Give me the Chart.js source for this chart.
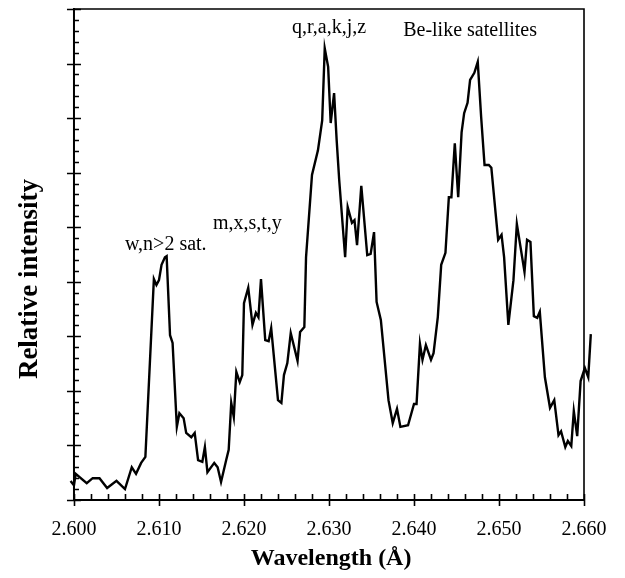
<!DOCTYPE html>
<html>
<head>
<meta charset="utf-8">
<title>Relative intensity vs wavelength</title>
<script src="https://cdn.jsdelivr.net/npm/chart.js@4.4.1/dist/chart.umd.min.js"></script>
<style>
    html, body { margin: 0; padding: 0; background: #fff; }
    canvas { display: block; }
</style>
</head>
<body>
<canvas id="chart" width="625" height="578"></canvas>
<script>
// ==========================================
// Data
// ==========================================
const wavelength = [
    2.5996, 2.6000, 2.6002, 2.6015, 2.6022, 2.6030, 2.6039, 2.6050, 2.6060, 2.6068,
    2.6073, 2.6079, 2.6084, 2.6094, 2.6097, 2.6100, 2.6103, 2.6107, 2.6109, 2.6113,
    2.6116, 2.6121, 2.6124, 2.6129, 2.6132, 2.6138, 2.6142, 2.6146, 2.6151, 2.6154,
    2.6157, 2.6165, 2.6169, 2.6173, 2.6179, 2.6182, 2.6185, 2.6188, 2.6191, 2.6195,
    2.6198, 2.6200, 2.6205, 2.6210, 2.6214, 2.6217, 2.6220, 2.6225, 2.6229, 2.6232,
    2.6240, 2.6244, 2.6247, 2.6251, 2.6255, 2.6263, 2.6266, 2.6271, 2.6273, 2.6280,
    2.6287, 2.6292, 2.6295, 2.6299, 2.6302, 2.6306, 2.6309, 2.6312, 2.6319, 2.6322,
    2.6327, 2.6330, 2.6333, 2.6338, 2.6345, 2.6349, 2.6353, 2.6356, 2.6361, 2.6370,
    2.6375, 2.6380, 2.6384, 2.6393, 2.6400, 2.6403, 2.6407, 2.6410, 2.6414, 2.6420,
    2.6423, 2.6428, 2.6432, 2.6437, 2.6441, 2.6444, 2.6448, 2.6452, 2.6456, 2.6459,
    2.6463, 2.6466, 2.6471, 2.6475, 2.6479, 2.6483, 2.6488, 2.6491, 2.6496, 2.6499,
    2.6503, 2.6506, 2.6511, 2.6517, 2.6521, 2.6530, 2.6533, 2.6537, 2.6541, 2.6545,
    2.6548, 2.6554, 2.6560, 2.6565, 2.6570, 2.6573, 2.6578, 2.6581, 2.6585, 2.6588,
    2.6592, 2.6596, 2.6601, 2.6605, 2.6608
];

const intensity = [
    0.35, 0.27, 0.48, 0.31, 0.40, 0.40, 0.22, 0.35, 0.20, 0.60,
    0.48, 0.68, 0.79, 4.05, 3.94, 4.03, 4.31, 4.45, 4.47, 3.02,
    2.88, 1.34, 1.59, 1.50, 1.23, 1.15, 1.23, 0.73, 0.70, 0.97,
    0.51, 0.68, 0.60, 0.33, 0.73, 0.92, 1.78, 1.52, 2.35, 2.16,
    2.29, 3.61, 3.89, 3.21, 3.43, 3.35, 4.05, 2.93, 2.91, 3.15,
    1.83, 1.78, 2.29, 2.51, 3.06, 2.55, 3.08, 3.17, 4.45, 5.96,
    6.41, 6.96, 8.28, 7.94, 6.91, 7.46, 6.60, 5.87, 4.45, 5.37,
    5.08, 5.13, 4.67, 5.76, 4.49, 4.51, 4.91, 3.63, 3.30, 1.83,
    1.41, 1.67, 1.34, 1.37, 1.76, 1.76, 2.86, 2.57, 2.84, 2.57,
    2.69, 3.35, 4.31, 4.53, 5.55, 5.55, 6.54, 5.55, 6.74, 7.09,
    7.28, 7.70, 7.83, 8.03, 7.02, 6.14, 6.14, 6.09, 5.26, 4.77,
    4.86, 4.45, 3.21, 4.03, 5.06, 4.18, 4.77, 4.73, 3.37, 3.34,
    3.45, 2.25, 1.69, 1.83, 1.19, 1.26, 0.97, 1.08, 0.99, 1.63,
    1.17, 2.18, 2.42, 2.25, 3.04
];

const xTickLabels = ['2.600', '2.610', '2.620', '2.630', '2.640', '2.650', '2.660'];

const peakLabels = ['w,n>2 sat.', 'm,x,s,t,y', 'q,r,a,k,j,z', 'Be-like satellites'];

const SERIF = '"Liberation Serif", "Times New Roman", serif';

// axis frame runs 2.600 - 2.660, the scale is a bit wider so the
// trace can run past the frame at both ends like the original
const X_FRAME = [2.6, 2.66];

// ==========================================
// Plugin: frame, crossing ticks, labels
// ==========================================
const frameAndTicks = {
    id: 'frameAndTicks',
    afterDatasetsDraw(chart) {
        const { ctx, chartArea: a, scales: { x, y } } = chart;
        const xl = x.getPixelForValue(X_FRAME[0]);
        const xr = x.getPixelForValue(X_FRAME[1]);
        ctx.save();
        ctx.strokeStyle = '#000';
        ctx.fillStyle = '#000';

        // top and right frame
        ctx.lineWidth = 1.6;
        ctx.beginPath();
        ctx.moveTo(xl, a.top);
        ctx.lineTo(xr, a.top);
        ctx.lineTo(xr, a.bottom);
        ctx.stroke();

        // left and bottom axes
        ctx.lineWidth = 2;
        ctx.beginPath();
        ctx.moveTo(xl, a.top - 1);
        ctx.lineTo(xl, a.bottom);
        ctx.lineTo(xr + 1, a.bottom);
        ctx.stroke();

        // y ticks: majors every 1 cross the axis, minors every 0.2 point inward
        ctx.lineWidth = 1.6;
        ctx.beginPath();
        for (let i = 0; i <= 45; i++) {
            const py = Math.round(y.getPixelForValue(i * 0.2)) + 0.5;
            if (i % 5 === 0) {
                ctx.moveTo(xl - 7, py);
                ctx.lineTo(xl + 7, py);
            } else {
                ctx.moveTo(xl, py);
                ctx.lineTo(xl + 5, py);
            }
        }
        // x ticks: majors every 0.01, minors every 0.002
        for (let i = 0; i <= 30; i++) {
            const px = Math.round(x.getPixelForValue(2.6 + i * 0.002)) + 0.5;
            if (i % 5 === 0) {
                ctx.moveTo(px, a.bottom - 6);
                ctx.lineTo(px, a.bottom + 6);
            } else {
                ctx.moveTo(px, a.bottom);
                ctx.lineTo(px, a.bottom - 6);
            }
        }
        ctx.stroke();

        // peak annotations, anchored in data space
        const anchors = [[2.6108, 4.67], [2.6204, 5.06], [2.6300, 8.65], [2.6466, 8.61]];
        ctx.font = '20px ' + SERIF;
        ctx.textAlign = 'center';
        ctx.textBaseline = 'middle';
        peakLabels.forEach((txt, i) => {
            ctx.fillText(txt, x.getPixelForValue(anchors[i][0]), y.getPixelForValue(anchors[i][1]));
        });

        // y axis title (sits a bit below the axis centre in the original)
        ctx.translate(30, 279);
        ctx.rotate(-Math.PI / 2);
        ctx.font = 'bold 27px ' + SERIF;
        ctx.fillText('Relative intensity', 0, 0);

        ctx.restore();
    }
};

// ==========================================
// Chart
// ==========================================
const ctxSpec = document.getElementById('chart');

new Chart(ctxSpec, {
    type: 'line',
    data: {
        datasets: [{
            data: wavelength.map((w, i) => ({ x: w, y: intensity[i] })),
            borderColor: '#000',
            borderWidth: 2.4,
            pointRadius: 0,
            tension: 0,
            fill: false,
            clip: false
        }]
    },
    options: {
        responsive: false,
        animation: false,
        layout: { padding: { left: 0, right: 30.47, top: 9, bottom: 0 } },
        plugins: {
            legend: { display: false },
            tooltip: { enabled: false }
        },
        scales: {
            x: {
                type: 'linear',
                min: 2.5995,
                max: 2.661,
                grid: { display: false, drawTicks: false },
                border: { display: false },
                afterBuildTicks: (scale) => {
                    scale.ticks = xTickLabels.map(t => ({ value: parseFloat(t) }));
                },
                afterFit: (scale) => { scale.height = 78; },
                ticks: {
                    padding: 18,
                    maxRotation: 0,
                    color: '#000',
                    font: { family: SERIF, size: 20 },
                    callback: (v) => v.toFixed(3)
                },
                title: {
                    display: true,
                    text: 'Wavelength (Å)',
                    color: '#000',
                    font: { family: SERIF, size: 24, weight: 'bold' },
                    padding: { top: 0, bottom: 5 }
                }
            },
            y: {
                min: 0,
                max: 9,
                grid: { display: false, drawTicks: false },
                border: { display: false },
                ticks: { display: false },
                afterFit: (scale) => { scale.width = 69.73; }
            }
        }
    },
    plugins: [frameAndTicks]
});
</script>
</body>
</html>
